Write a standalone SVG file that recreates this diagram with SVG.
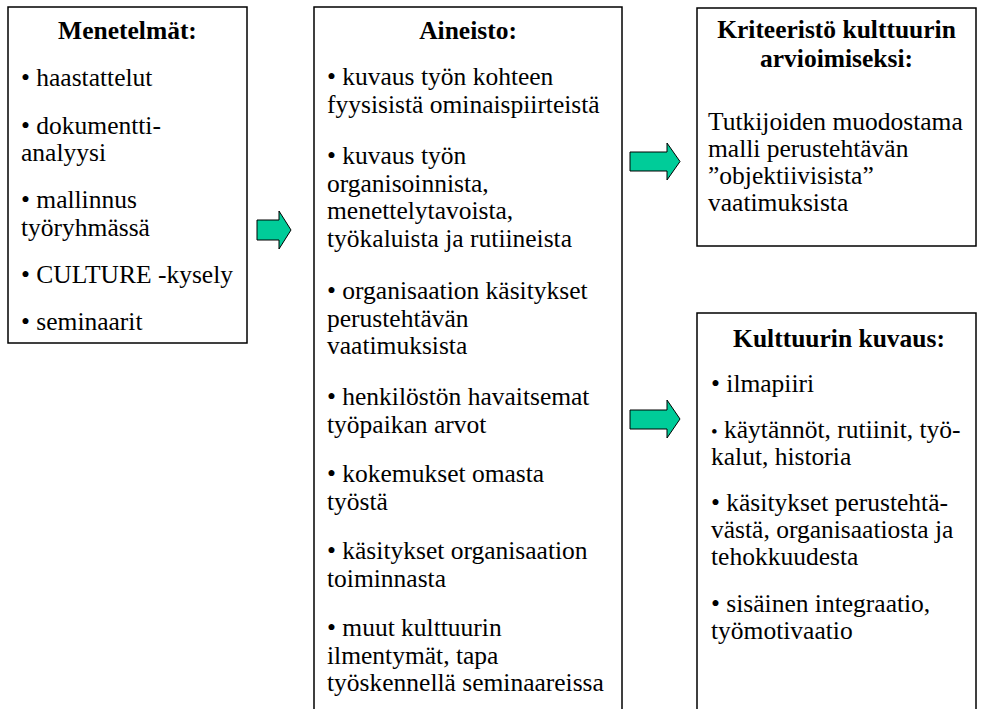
<svg xmlns="http://www.w3.org/2000/svg" width="981" height="709" viewBox="0 0 981 709">
<style>
.box{fill:#fff;stroke:#000;stroke-width:1.5}
.t{font-family:"Liberation Serif","Times New Roman",serif;font-size:25.5px;fill:#000}
.h{font-family:"Liberation Serif","Times New Roman",serif;font-size:25.5px;font-weight:bold;fill:#000;text-anchor:middle}
.arr{fill:#00CC99;stroke:#000;stroke-width:1}
</style>
<rect width="981" height="709" fill="#fff"/>
<g id="menetelmat">
<rect class="box" x="8" y="7" width="239" height="336"/>
<text class="h" x="127.5" y="39">Menetelmät:</text>
<text class="t" x="21" y="86">• haastattelut</text>
<text class="t" x="21" y="133.5">• dokumentti-</text>
<text class="t" x="21" y="161">analyysi</text>
<text class="t" x="21" y="208">• mallinnus</text>
<text class="t" x="21" y="235.5">työryhmässä</text>
<text class="t" x="21" y="283">• CULTURE -kysely</text>
<text class="t" x="21" y="330">• seminaarit</text>
</g>
<g id="aineisto">
<rect class="box" x="314" y="7" width="308" height="720"/>
<text class="h" x="468" y="39">Aineisto:</text>
<text class="t" x="327" y="85">• kuvaus työn kohteen</text>
<text class="t" x="327" y="112.5">fyysisistä ominaispiirteistä</text>
<text class="t" x="327" y="164">• kuvaus työn</text>
<text class="t" x="327" y="191.5">organisoinnista,</text>
<text class="t" x="327" y="219">menettelytavoista,</text>
<text class="t" x="327" y="246.5">työkaluista ja rutiineista</text>
<text class="t" x="327" y="299">• organisaation käsitykset</text>
<text class="t" x="327" y="326.5">perustehtävän</text>
<text class="t" x="327" y="354">vaatimuksista</text>
<text class="t" x="327" y="405">• henkilöstön havaitsemat</text>
<text class="t" x="327" y="432.5">työpaikan arvot</text>
<text class="t" x="327" y="482">• kokemukset omasta</text>
<text class="t" x="327" y="509.5">työstä</text>
<text class="t" x="327" y="559">• käsitykset organisaation</text>
<text class="t" x="327" y="586.5">toiminnasta</text>
<text class="t" x="327" y="636">• muut kulttuurin</text>
<text class="t" x="327" y="663.5">ilmentymät, tapa</text>
<text class="t" x="327" y="691">työskennellä seminaareissa</text>
</g>
<g id="kriteeristo">
<rect class="box" x="697" y="8" width="279" height="238"/>
<text class="h" x="836.5" y="38">Kriteeristö kulttuurin</text>
<text class="h" x="836.5" y="67">arvioimiseksi:</text>
<text class="t" x="708" y="130">Tutkijoiden muodostama</text>
<text class="t" x="708" y="157">malli perustehtävän</text>
<text class="t" x="708" y="184">”objektiivisista”</text>
<text class="t" x="708" y="211">vaatimuksista</text>
</g>
<g id="kuvaus">
<rect class="box" x="697" y="313" width="279" height="420"/>
<text class="h" x="839" y="347">Kulttuurin kuvaus:</text>
<text class="t" x="711" y="392">• ilmapiiri</text>
<text class="t" x="711" y="438"><tspan font-size="19">•</tspan> käytännöt, rutiinit, työ-</text>
<text class="t" x="711" y="465">kalut, historia</text>
<text class="t" x="711" y="511">• käsitykset perustehtä-</text>
<text class="t" x="711" y="538">västä, organisaatiosta ja</text>
<text class="t" x="711" y="565">tehokkuudesta</text>
<text class="t" x="711" y="612">• sisäinen integraatio,</text>
<text class="t" x="711" y="639">työmotivaatio</text>
</g>
<g id="connectors">
<polygon class="arr" points="257,220 279,220 279,211 291,230 279,249 279,240 257,240"/>
<polygon class="arr" points="630,152 667,152 667,143 680,161.5 667,180 667,171 630,171"/>
<polygon class="arr" points="630,410 667,410 667,400 680,419 667,438 667,429 630,429"/>
</g>
</svg>
